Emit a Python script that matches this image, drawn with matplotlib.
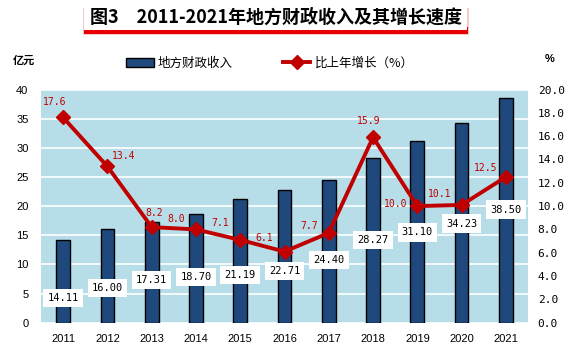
import matplotlib
matplotlib.use("Agg")
import matplotlib.pyplot as plt
from matplotlib.patches import Rectangle
import numpy as np

plt.rcParams['font.family'] = ['Liberation Sans', 'Noto Sans CJK SC', 'DejaVu Sans']

# data
years = ['2011', '2012', '2013', '2014', '2015', '2016', '2017', '2018', '2019', '2020', '2021']
revenue = [14.11, 16.00, 17.31, 18.70, 21.19, 22.71, 24.40, 28.27, 31.10, 34.23, 38.50]
growth = [17.6, 13.4, 8.2, 8.0, 7.1, 6.1, 7.7, 15.9, 10.0, 10.1, 12.5]

# where the value boxes sit (left axis units) and the growth label offsets (px)
bar_label_y = [4.2, 5.9, 7.3, 7.8, 8.2, 8.9, 10.8, 14.2, 15.5, 17.0, 19.4]
growth_label_off = [(-9, 15), (16, 10), (3, 14), (-20, 10), (-20, 17), (-20, 14),
                    (-20, 7), (-4, 16), (-22, 2), (-22, 11), (-20, 9)]

W, H = 573, 363
fig = plt.figure(figsize=(W / 100, H / 100), dpi=100)
fig.patch.set_facecolor('white')

ax = fig.add_axes([41 / W, 1 - 322.7 / H, (528 - 41) / W, (322.7 - 89.5) / H])
ax.set_facecolor('#B7DDE8')
x = np.arange(len(years))

bars = ax.bar(x, revenue, width=0.31, color='#1F497D', edgecolor='black', linewidth=1,
              zorder=3, label='地方财政收入')
ax.set_ylim(0, 40)
ax.set_xlim(-0.5, len(years) - 0.5)
ax.set_yticks(range(0, 41, 5))
ax.set_xticks(x)
ax.set_xticklabels(years)
ax.yaxis.grid(True, color='white', linewidth=1.2, zorder=0)
ax.set_axisbelow(True)
ax.tick_params(axis='both', length=0, labelsize=8)
ax.tick_params(axis='y', pad=9)
ax.tick_params(axis='x', pad=8)
for s in ax.spines.values():
    s.set_visible(False)

for xi, v, ly in zip(x, revenue, bar_label_y):
    ax.text(xi, ly, f'{v:.2f}', ha='center', va='center', fontsize=7.5, zorder=6,
            family='DejaVu Sans Mono',
            bbox=dict(boxstyle='square,pad=0.4', facecolor='white', edgecolor='none'))

ax2 = ax.twinx()
line, = ax2.plot(x, growth, color='#C00000', linewidth=2.8, marker='D', markersize=7,
                 zorder=5, label='比上年增长（%）')
ax2.set_ylim(0, 20)
ax2.set_yticks(np.arange(0, 20.1, 2))
ax2.set_yticklabels([f'{t:.1f}' for t in np.arange(0, 20.1, 2)], family='DejaVu Sans Mono')
ax2.tick_params(axis='y', length=0, labelsize=8, pad=7)
for s in ax2.spines.values():
    s.set_visible(False)

for xi, g, off in zip(x, growth, growth_label_off):
    ax2.annotate(f'{g:.1f}', (xi, g), xytext=off, textcoords='offset pixels',
                 ha='center', va='center', fontsize=7, color='#C00000',
                 family='DejaVu Sans Mono', zorder=6)

# title box with soft red shadow
fig.patches.append(Rectangle((82.5 / W, 1 - 35 / H), 386 / W, 27 / H,
                             transform=fig.transFigure, facecolor='#F8C8C8',
                             edgecolor='none', zorder=0))
fig.patches.append(Rectangle((84 / W, 1 - 33.5 / H), 383.5 / W, 6 / H,
                             transform=fig.transFigure, facecolor='#E80000',
                             edgecolor='none', zorder=1))
fig.patches.append(Rectangle((84 / W, 1 - 30 / H), 383 / W, 25 / H,
                             transform=fig.transFigure, facecolor='white',
                             edgecolor='none', zorder=2))
fig.text(276 / W, 1 - 17.5 / H, '图3　2011-2021年地方财政收入及其增长速度',
         ha='center', va='center', fontsize=13, fontweight='bold',
         family=['Noto Sans CJK SC', 'DejaVu Sans'], zorder=3)

fig.text(23.5 / W, 1 - 60 / H, '亿元', ha='center', va='center', fontsize=8,
         fontweight='bold', family=['Noto Sans CJK SC'])
fig.text(550 / W, 1 - 59 / H, '%', ha='center', va='center', fontsize=8,
         fontweight='bold')

fig.legend(handles=[bars, line], loc='center left', bbox_to_anchor=(126 / W, 1 - 63 / H),
           ncol=2, frameon=False, handlelength=2.2, handleheight=0.7,
           handletextpad=0.35, columnspacing=4.0, borderpad=0, borderaxespad=0,
           prop={'family': ['Noto Sans CJK SC', 'DejaVu Sans'], 'size': 9})

fig.savefig('out.png', dpi=100)
